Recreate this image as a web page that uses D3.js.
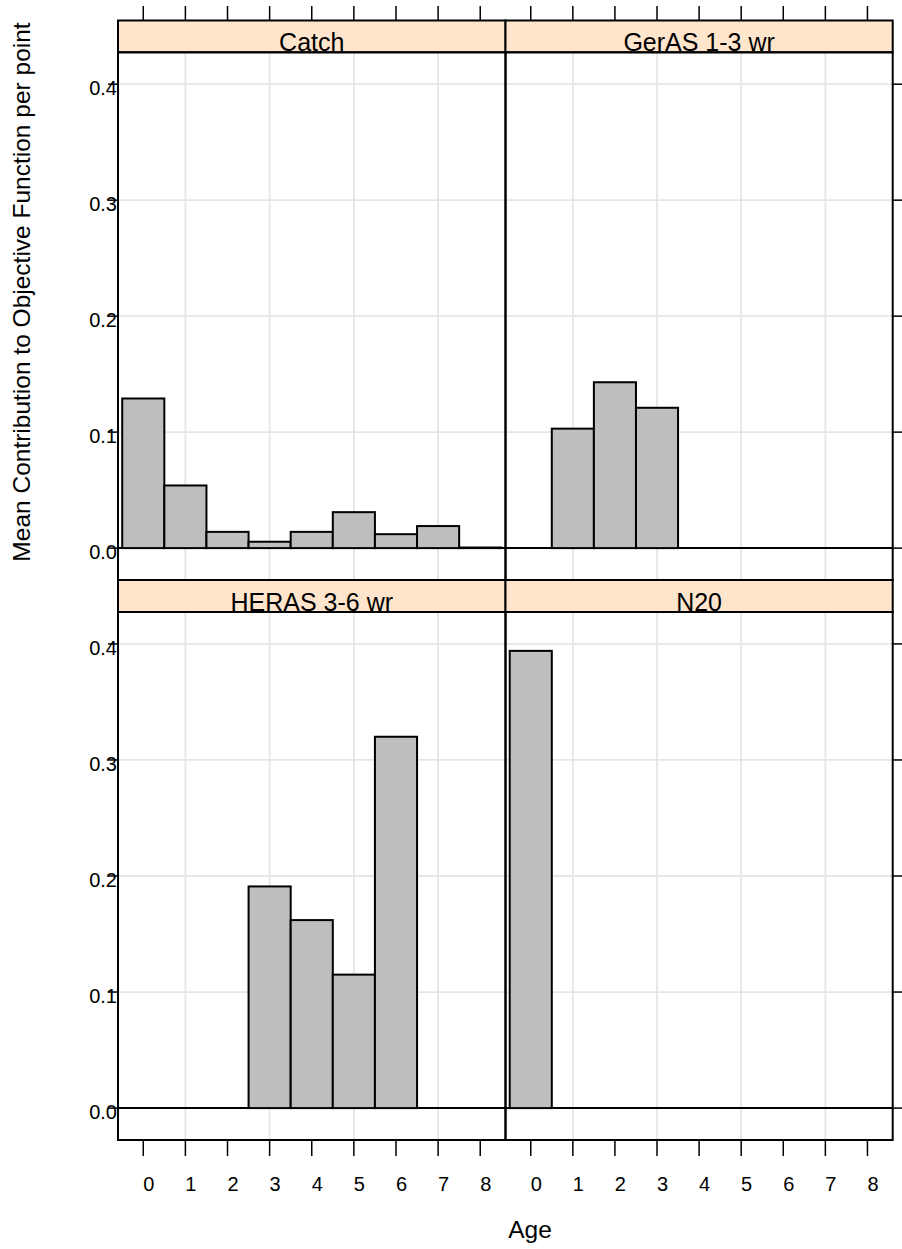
<!DOCTYPE html>
<html>
<head>
<meta charset="utf-8">
<script src="https://cdn.jsdelivr.net/npm/d3@7"></script>
<style>
  html, body { margin: 0; padding: 0; background: #fff; }
  svg { display: block; font-family: "Liberation Sans", Arial, sans-serif; }
</style>
</head>
<body>
<svg id="chart" width="902" height="1249"></svg>
<script>
// ---- data ----
const ages = [0, 1, 2, 3, 4, 5, 6, 7, 8];
const panelNames = ["Catch", "GerAS 1-3 wr", "HERAS 3-6 wr", "N20"];
const catchAges = [0, 1, 2, 3, 4, 5, 6, 7, 8];
const catchValues = [0.129, 0.054, 0.014, 0.0055, 0.014, 0.031, 0.012, 0.019, 0.0005];
const gerasAges = [1, 2, 3];
const gerasValues = [0.103, 0.143, 0.121];
const herasAges = [3, 4, 5, 6];
const herasValues = [0.191, 0.162, 0.115, 0.320];
const n20Ages = [0];
const n20Values = [0.394];
const yTicks = [0.0, 0.1, 0.2, 0.3, 0.4];
const yTickLabels = ["0.0", "0.1", "0.2", "0.3", "0.4"];
const xGrid = [1, 3, 5, 7];
const yLabel = "Mean Contribution to Objective Function per point";
const xLabel = "Age";

const seriesAges = [catchAges, gerasAges, herasAges, n20Ages];
const seriesValues = [catchValues, gerasValues, herasValues, n20Values];

// ---- layout ----
const svg = d3.select("#chart");
const colX = [[118, 505.5], [505.5, 892.7]];
const rows = [ {strip: [20.5, 52.3], panel: [52.3, 580]}, {strip: [580, 612], panel: [612, 1140]} ];

const panels = panelNames.map((name, i) => ({
  name, ages: seriesAges[i], values: seriesValues[i],
  col: i % 2, row: Math.floor(i / 2)
}));

const gridG = svg.append("g");
const markG = svg.append("g");
const frameG = svg.append("g");

panels.forEach(p => {
  const [x0, x1] = colX[p.col];
  const r = rows[p.row];
  const x = d3.scaleLinear().domain([-0.6, 8.6]).range([x0, x1]);
  const y = d3.scaleLinear().domain([-0.0275, 0.4275]).range([r.panel[1], r.panel[0]]);

  // grid
  gridG.selectAll(null).data(yTicks.slice(1)).enter().append("line")
    .attr("x1", x0).attr("x2", x1).attr("y1", d => y(d)).attr("y2", d => y(d))
    .attr("stroke", "#e6e6e6").attr("stroke-width", 1.8);
  gridG.selectAll(null).data(xGrid).enter().append("line")
    .attr("x1", d => x(d)).attr("x2", d => x(d)).attr("y1", r.panel[0]).attr("y2", r.panel[1])
    .attr("stroke", "#e6e6e6").attr("stroke-width", 1.8);

  // zero line
  markG.append("line")
    .attr("x1", x0).attr("x2", x1).attr("y1", y(0)).attr("y2", y(0))
    .attr("stroke", "#000").attr("stroke-width", 2);

  // bars
  markG.selectAll(null).data(p.ages.map((a, k) => ({a, v: p.values[k]}))).enter().append("rect")
    .attr("x", d => x(d.a - 0.5)).attr("width", d => x(d.a + 0.5) - x(d.a - 0.5))
    .attr("y", d => y(d.v)).attr("height", d => Math.max(0, y(0) - y(d.v)))
    .attr("fill", "#bebebe").attr("stroke", "#000").attr("stroke-width", 2);

  // strip
  frameG.append("rect")
    .attr("x", x0).attr("y", r.strip[0]).attr("width", x1 - x0).attr("height", r.strip[1] - r.strip[0])
    .attr("fill", "#ffe5cc").attr("stroke", "#000").attr("stroke-width", 2);
  frameG.append("text")
    .attr("x", (x0 + x1) / 2).attr("y", r.strip[1] - 1.5)
    .attr("text-anchor", "middle").attr("font-size", 25).attr("fill", "#000")
    .text(p.name);

  // panel border
  frameG.append("rect")
    .attr("x", x0).attr("y", r.panel[0]).attr("width", x1 - x0).attr("height", r.panel[1] - r.panel[0])
    .attr("fill", "none").attr("stroke", "#000").attr("stroke-width", 2);

  // y ticks
  if (p.col === 0) {
    frameG.selectAll(null).data(yTicks).enter().append("line")
      .attr("x1", x0 - 10).attr("x2", x0).attr("y1", d => y(d)).attr("y2", d => y(d))
      .attr("stroke", "#000").attr("stroke-width", 1.5);
    frameG.selectAll(null).data(yTicks).enter().append("text")
      .attr("x", x0 - 1).attr("y", d => y(d) + 11)
      .attr("text-anchor", "end").attr("font-size", 20).attr("fill", "#000")
      .text((d, k) => yTickLabels[k]);
  } else {
    frameG.selectAll(null).data(yTicks).enter().append("line")
      .attr("x1", x1).attr("x2", x1 + 10).attr("y1", d => y(d)).attr("y2", d => y(d))
      .attr("stroke", "#000").attr("stroke-width", 1.5);
  }

  // x ticks
  if (p.row === 0) {
    frameG.selectAll(null).data(ages).enter().append("line")
      .attr("x1", d => x(d)).attr("x2", d => x(d)).attr("y1", 6).attr("y2", r.strip[0])
      .attr("stroke", "#000").attr("stroke-width", 1.5);
  } else {
    frameG.selectAll(null).data(ages).enter().append("line")
      .attr("x1", d => x(d)).attr("x2", d => x(d)).attr("y1", r.panel[1]).attr("y2", r.panel[1] + 16)
      .attr("stroke", "#000").attr("stroke-width", 1.5);
    frameG.selectAll(null).data(ages).enter().append("text")
      .attr("x", d => x(d) + 5.5).attr("y", 1190.5)
      .attr("text-anchor", "middle").attr("font-size", 20).attr("fill", "#000")
      .text(d => String(d));
  }
});

// axis titles
svg.append("text")
  .attr("transform", "translate(30,292) rotate(-90)")
  .attr("text-anchor", "middle").attr("font-size", 24.5).attr("fill", "#000")
  .text(yLabel);
svg.append("text")
  .attr("x", 530).attr("y", 1238)
  .attr("text-anchor", "middle").attr("font-size", 24.5).attr("fill", "#000")
  .text(xLabel);
</script>
</body>
</html>
